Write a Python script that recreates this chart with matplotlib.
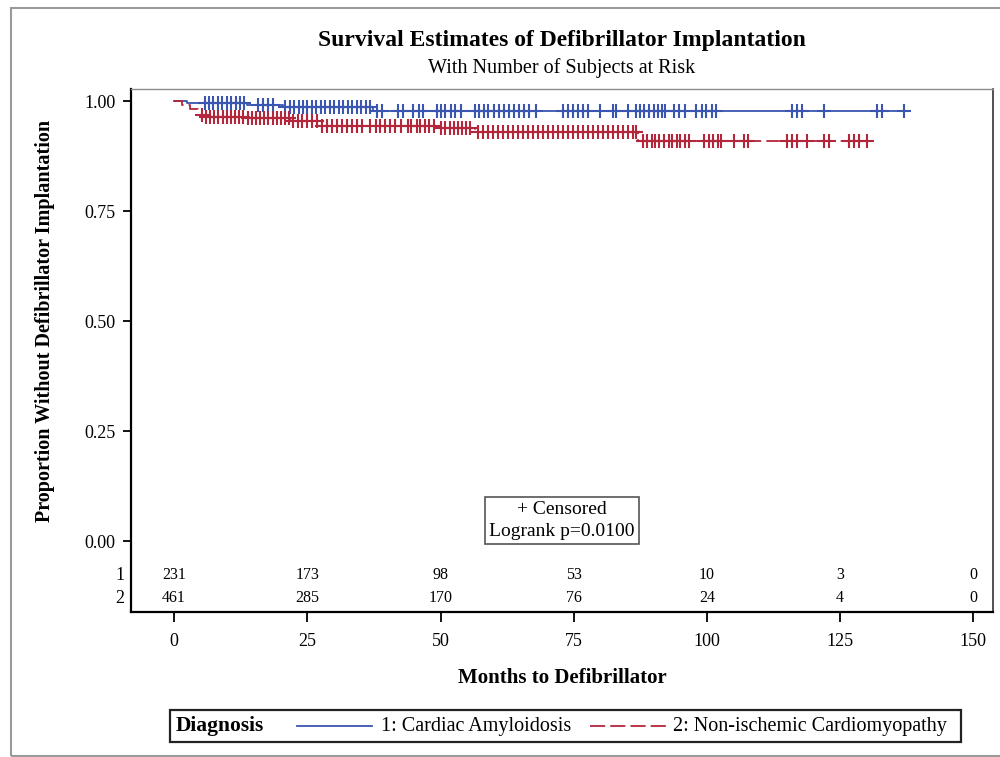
import matplotlib.pyplot as plt
from matplotlib.lines import Line2D
from matplotlib.patches import Rectangle
import numpy as np

plt.rcParams['font.family'] = ['Liberation Serif', 'DejaVu Serif']

# Kaplan-Meier steps (months, proportion without defibrillator)
blue_t = [0, 2.5, 13.7, 20.4, 37.4, 137.6]
blue_s = [1.0, 0.996, 0.991, 0.987, 0.978, 0.978]
red_t = [0, 1.4, 2.9, 4.4, 5.8, 13.8, 21.8, 26.9, 49.4, 56.4, 87.1, 130.6]
red_s = [1.0, 0.992, 0.983, 0.969, 0.965, 0.961, 0.955, 0.943, 0.938, 0.929, 0.910, 0.910]

# censored times
blue_cens = [5.7, 6.5, 7.3, 8.2, 9.0, 9.9, 10.6, 11.6, 12.3, 13.1, 15.7, 16.7, 17.6, 18.6,
             20.8, 21.8, 22.5, 23.5, 24.2, 25.0, 25.9, 26.7, 27.6, 28.3, 29.3, 30.0, 31.0,
             31.7, 32.7, 33.4, 34.4, 35.1, 36.1, 36.8, 38.1, 39.1, 42.1, 43.0, 44.9, 45.9,
             46.8, 49.3, 50.0, 50.9, 51.9, 52.8, 53.8, 56.4, 57.2, 58.1, 59.0, 60.0, 60.9,
             61.9, 62.8, 63.8, 64.7, 65.6, 66.6, 67.9, 73.0, 73.9, 74.9, 75.8, 76.7, 77.7,
             79.9, 82.4, 83.0, 85.2, 86.7, 87.5, 88.2, 89.2, 90.1, 90.9, 91.6, 92.2, 93.9,
             94.8, 95.8, 98.0, 99.0, 99.9, 100.9, 101.8, 115.9, 116.9, 117.8, 121.9, 131.9,
             132.9, 137.0]
red_cens = [5.2, 5.9, 6.7, 7.4, 8.2, 9.1, 9.9, 10.6, 11.4, 12.2, 12.9, 13.8, 14.6, 15.4,
            16.1, 16.9, 17.6, 18.6, 19.3, 20.1, 20.8, 21.6, 22.3, 23.3, 24.0, 25.0, 25.9,
            26.8, 27.8, 28.7, 29.7, 30.6, 31.5, 32.5, 33.4, 34.4, 35.3, 36.8, 37.8, 38.7,
            39.6, 40.6, 41.5, 42.5, 43.8, 44.5, 45.5, 46.2, 47.0, 47.9, 48.7, 50.0, 50.8,
            51.7, 52.5, 53.2, 54.0, 54.7, 55.5, 57.0, 57.9, 58.9, 59.8, 60.7, 61.7, 62.6,
            63.6, 64.5, 65.4, 66.4, 67.3, 68.3, 69.2, 70.2, 71.1, 72.0, 73.0, 73.9, 74.9,
            75.8, 76.7, 77.7, 78.6, 79.6, 80.5, 81.5, 82.4, 83.3, 84.3, 85.2, 86.2, 86.7,
            88.0, 88.8, 89.6, 90.3, 91.1, 92.0, 92.8, 93.5, 94.3, 95.0, 95.8, 96.7, 99.5,
            100.3, 101.2, 102.0, 102.7, 105.0, 106.9, 107.8, 115.0, 115.9, 116.9, 118.7,
            121.9, 122.9, 126.7, 127.6, 128.5, 130.0]

risk_times = [0, 25, 50, 75, 100, 125, 150]
risk_1 = [231, 173, 98, 53, 10, 3, 0]
risk_2 = [461, 285, 170, 76, 24, 4, 0]

blue = '#3A56B0'
red = '#B3263C'
dash = (0, (7.5, 2.8))


def level(times, surv, c):
    idx = np.searchsorted(times, c, side='right') - 1
    return np.array(surv)[idx]


fig = plt.figure(figsize=(10, 7.57), dpi=100)
ax = fig.add_axes([0.131, 0.191, 0.862, 0.691])

ax.step(blue_t, blue_s, where='post', color=blue, lw=1.3)
ax.step(red_t, red_s, where='post', color=red, lw=1.3, linestyle=dash)
ax.plot(blue_cens, level(blue_t, blue_s, blue_cens), '+', color=blue, ms=10, mew=1.5)
ax.plot(red_cens, level(red_t, red_s, red_cens), '+', color=red, ms=10, mew=1.5)

ax.set_xlim(-8.1, 153.7)
ax.set_ylim(-0.162, 1.027)
ax.set_xticks(risk_times)
ax.set_yticks([0, 0.25, 0.5, 0.75, 1.0])
ax.set_yticklabels(['0.00', '0.25', '0.50', '0.75', '1.00'])
ax.tick_params(axis='x', length=7, width=1.3, pad=8, labelsize=13)
ax.tick_params(axis='y', length=6, width=1.3, pad=5, labelsize=13)

for sp in ['left', 'bottom']:
    ax.spines[sp].set_linewidth(1.6)
    ax.spines[sp].set_color('black')
ax.spines['top'].set_color('#8a8a8a')
ax.spines['top'].set_linewidth(1.0)
ax.spines['right'].set_color('#333333')
ax.spines['right'].set_linewidth(1.2)

# number at risk table
for t, a, b in zip(risk_times, risk_1, risk_2):
    ax.text(t, -0.077, str(a), ha='center', va='center', fontsize=11.5)
    ax.text(t, -0.130, str(b), ha='center', va='center', fontsize=11.5)
trans = ax.get_yaxis_transform()
ax.text(-0.008, -0.077, '1', transform=trans, ha='right', va='center', fontsize=13)
ax.text(-0.008, -0.130, '2', transform=trans, ha='right', va='center', fontsize=13)

ax.text(0.5, 0.176, '+ Censored\nLogrank p=0.0100', transform=ax.transAxes,
        ha='center', va='center', fontsize=14, linespacing=1.35,
        bbox=dict(boxstyle='square,pad=0.2', fc='white', ec='#555555', lw=1.2))

fig.text(0.562, 0.947, 'Survival Estimates of Defibrillator Implantation',
         ha='center', va='center', fontsize=17, fontweight='bold')
fig.text(0.562, 0.910, 'With Number of Subjects at Risk',
         ha='center', va='center', fontsize=14.5)
fig.text(0.562, 0.104, 'Months to Defibrillator', ha='center', va='center',
         fontsize=15, fontweight='bold')
fig.text(0.045, 0.576, 'Proportion Without Defibrillator Implantation', ha='center',
         va='center', rotation=90, fontsize=14.5, fontweight='bold')

# legend
fig.patches.append(Rectangle((0.1695, 0.0198), 0.7915, 0.0422, transform=fig.transFigure,
                             fill=False, ec='#222222', lw=1.6))
fig.text(0.176, 0.0405, 'Diagnosis', ha='left', va='center', fontsize=15.5, fontweight='bold')
fig.lines.append(Line2D([0.297, 0.372], [0.0405, 0.0405], transform=fig.transFigure,
                        color=blue, lw=1.3))
fig.text(0.381, 0.0405, '1: Cardiac Amyloidosis', ha='left', va='center', fontsize=14.5)
fig.lines.append(Line2D([0.590, 0.666], [0.0405, 0.0405], transform=fig.transFigure,
                        color=red, lw=1.3, linestyle=(0, (8.4, 2.8))))
fig.text(0.673, 0.0405, '2: Non-ischemic Cardiomyopathy', ha='left', va='center', fontsize=14.5)

# outer frame
fig.patches.append(Rectangle((0.011, 0.001), 1.0, 0.9885, transform=fig.transFigure,
                             fill=False, ec='#9a9a9a', lw=1.5))

fig.savefig('out.png', dpi=100, facecolor='white')
